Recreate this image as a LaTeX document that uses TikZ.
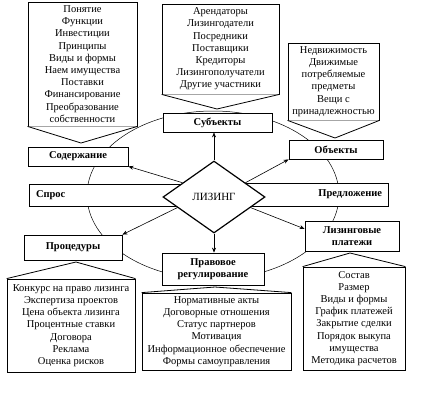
\documentclass[tikz,border=0pt]{standalone}
\usepackage{fontspec}
\setmainfont{Liberation Serif}
\usetikzlibrary{shapes.geometric,arrows.meta,calc}
\begin{document}
\begin{tikzpicture}[x=1pt,y=-1pt,
  box/.style={draw,fill=white,line width=0.8pt,inner sep=0pt,font=\bfseries\fontsize{10.5}{12}\selectfont,align=center},
  listbox/.style={draw,fill=white,line width=0.8pt,inner sep=0pt,font=\fontsize{10.5}{12.2}\selectfont,align=center},
  callout/.style={draw,fill=white,line width=0.8pt,line join=miter},
  link/.style={line width=0.6pt,-{Stealth[length=5pt,width=4pt]}},
  orbit/.style={line width=0.5pt},
]
\fill[white] (0,0) rectangle (430,400);
\useasboundingbox (0,0) rectangle (430,400);

% big ellipse behind everything
\draw[orbit] (213,195) ellipse [x radius=126, y radius=84];

% list boxes with pointers
\node[listbox,minimum width=109pt,minimum height=124pt] (l1) at (82.5,64)
  {Понятие\\Функции\\Инвестиции\\Принципы\\Виды и формы\\Наем имущества\\Поставки\\Финансирование\\Преобразование\\собственности};
\coordinate (v1) at (81,143);
\filldraw[callout] (l1.south west) -- (v1) -- (l1.south east);

\node[listbox,minimum width=117pt,minimum height=90pt] (l2) at (220.5,49)
  {Арендаторы\\Лизингодатели\\Посредники\\Поставщики\\Кредиторы\\Лизингополучатели\\Другие участники};
\coordinate (v2) at (217,109);
\filldraw[callout] (l2.south west) -- (v2) -- (l2.south east);

\node[listbox,minimum width=91pt,minimum height=77pt] (l3) at (333.5,81.5)
  {Недвижимость\\Движимые\\потребляемые\\предметы\\Вещи с\\принадлежностью};
\coordinate (v3) at (335,138);
\filldraw[callout] (l3.south west) -- (v3) -- (l3.south east);

\node[listbox,minimum width=128pt,minimum height=93pt] (l4) at (71,325.5)
  {Конкурс на право лизинга\\Экспертиза проектов\\Цена объекта лизинга\\Процентные ставки\\Договора\\Реклама\\Оценка рисков};
\coordinate (v4) at (76,262);
\filldraw[callout] (l4.north west) -- (v4) -- (l4.north east);

\node[listbox,minimum width=149pt,minimum height=77pt] (l5) at (216.5,331.5)
  {Нормативные акты\\Договорные отношения\\Статус партнеров\\Мотивация\\Информационное обеспечение\\Формы самоуправления};
\coordinate (v5) at (215,287);
\filldraw[callout] (l5.north west) -- (v5) -- (l5.north east);

\node[listbox,minimum width=102pt,minimum height=103pt] (l6) at (354,318.5)
  {Состав\\Размер\\Виды и формы\\График платежей\\Закрытие сделки\\Порядок выкупа\\имущества\\Методика расчетов};
\coordinate (v6) at (350,253);
\filldraw[callout] (l6.north west) -- (v6) -- (l6.north east);

% category boxes
\node[box,minimum width=100pt,minimum height=19pt] (sod) at (78,156.5) {Содержание};
\node[box,minimum width=109pt,minimum height=19pt] (subj) at (217.5,122.5) {Субъекты};
\node[box,minimum width=94pt,minimum height=19pt] (obj) at (336,149.5) {Объекты};
\node[box,minimum width=98pt,minimum height=25pt] (proc) at (73,247.5) {Процедуры};
\node[box,minimum width=102pt,minimum height=32pt] (prav) at (213,269) {Правовое\\регулирование};
\node[box,minimum width=94pt,minimum height=30pt] (lp) at (352,236) {Лизинговые\\платежи};

\node[box,minimum width=186pt,minimum height=22pt,text width=172pt,inner xsep=7pt,align=left] (spros) at (122,195) {Спрос};
\node[box,minimum width=173pt,minimum height=23pt,text width=161pt,inner xsep=6pt,align=right] (predl) at (301.5,194.5) {Предложение};

% central diamond
\node[diamond,draw,fill=white,line width=1.2pt,minimum width=102pt,minimum height=72pt,inner sep=0pt,
  font=\fontsize{11}{13}\selectfont] (lz) at (214,197) {ЛИЗИНГ};

% arrows
\draw[link] (lz.north) -- (lz.north |- subj.south);
\draw[link] (lz.south) -- (lz.south |- prav.north);
\draw[link] ($(lz.west)!0.39!(lz.north)$) -- (sod.south east);
\draw[link] ($(lz.east)!0.39!(lz.north)$) -- (obj.south west);
\draw[link] ($(lz.west)!0.29!(lz.south)$) -- (proc.north east);
\draw[link] ($(lz.east)!0.29!(lz.south)$) -- ($(lp.north west)!0.27!(lp.south west)$);
\end{tikzpicture}
\end{document}
